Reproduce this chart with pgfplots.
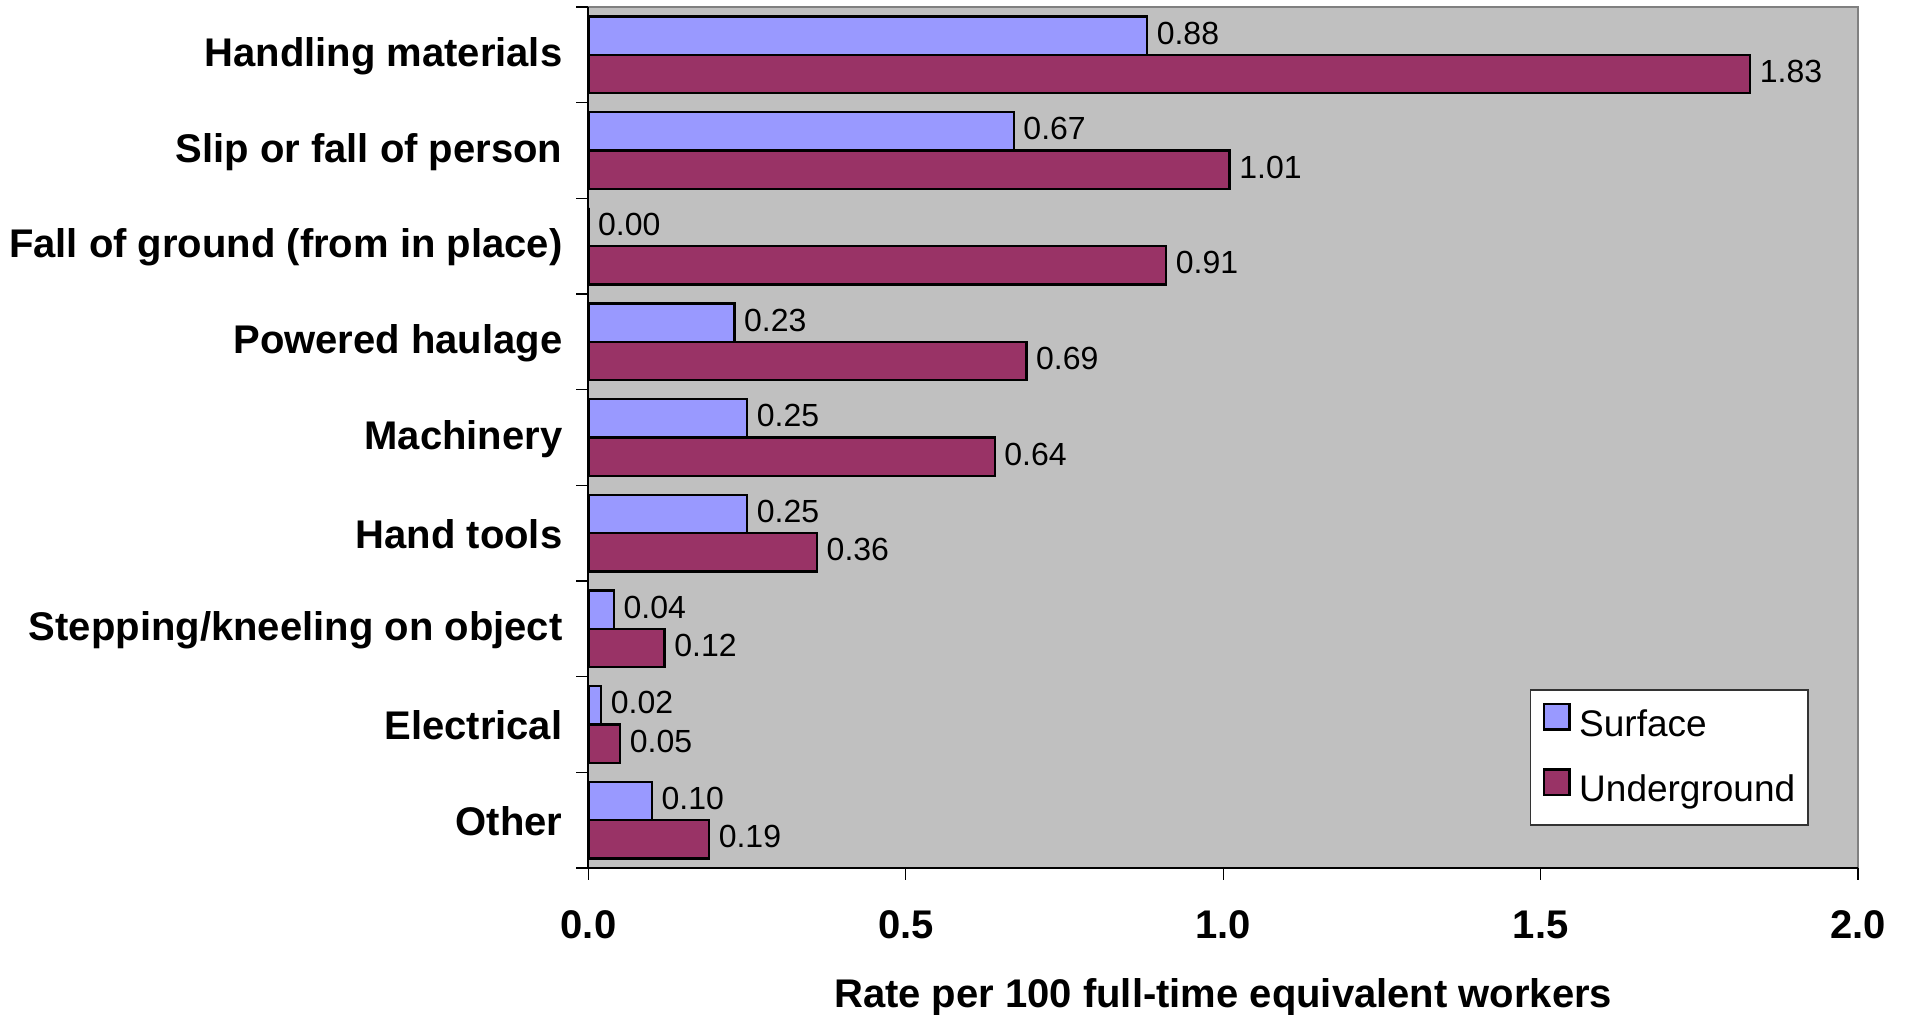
\documentclass[border=0pt]{standalone}
\usepackage{pgfplots}
\pgfplotsset{compat=1.18}
\usepackage{fontspec}
\setmainfont{Liberation Sans}

\definecolor{surf}{HTML}{9999FF}
\definecolor{under}{HTML}{993366}
\definecolor{plotbg}{HTML}{C0C0C0}
\definecolor{framegray}{HTML}{808080}

\begin{document}
\begin{tikzpicture}
\begin{axis}[
  name=ax,
  scale only axis,
  width=317.4pt, height=215.25pt,
  xbar,
  clip=false,
  xmin=0, xmax=2,
  ymin=-0.5, ymax=8.5,
  bar width=0.4,
  axis background/.style={fill=plotbg, draw=framegray, line width=0.5pt},
  axis x line*=bottom, axis y line*=left,
  axis line style={black, line width=0.5pt},
  xtick={0,0.5,1,1.5,2},
  ytick={0,...,8},
  yticklabels={Other, Electrical, Stepping/kneeling on object, Hand tools, Machinery,
    Powered haulage, Fall of ground (from in place), Slip or fall of person, Handling materials},
  minor ytick={-0.5,0.5,...,8.5},
  tick align=outside,
  major tick length=3pt, minor tick length=3pt,
  every major y tick/.append style={draw=none},
  tick style={black, line width=0.3pt},
  ticklabel style={font=\fontsize{10}{12}\selectfont\bfseries},
  yticklabel style={yshift=-0.3pt},
  xticklabel style={yshift=-4.2pt,
    /pgf/number format/.cd, fixed, fixed zerofill, precision=1, assume math mode=true},
  xlabel={Rate per 100 full-time equivalent workers},
  xlabel style={at={(axis description cs:0.5,0)}, anchor=base, yshift=-34.8pt,
    font=\fontsize{10}{12}\selectfont\bfseries},
  point meta=x,
  nodes near coords={\pgfmathprintnumber[fixed, fixed zerofill, precision=2, assume math mode=true]{\pgfplotspointmeta}},
  every node near coord/.append style={font=\fontsize{8}{9.6}\selectfont, anchor=west,
    xshift=-1.2pt, yshift=0.6pt, black},
  legend cell align=left,
  legend image code/.code={
    \path[draw=none, fill=none] (0pt,0pt) -- (9.05pt,0pt);
    \draw[#1, line width=0.6pt] (0.3pt,-1pt) rectangle (6.65pt,5.35pt);},
  legend style={at={(1,0)}, anchor=south east, xshift=-12.35pt, yshift=10.6pt,
    fill=white, draw=black!80, line width=0.4pt,
    inner xsep=3.15pt, inner ysep=3.3pt, row sep=5.45pt,
    font=\fontsize{9.25}{11}\selectfont,
    nodes={inner sep=0pt, text height=8pt, text depth=2.4pt}},
]
\addplot[fill=surf, draw=black, line width=0.6pt, bar shift=0.2]
  coordinates {(0.88,8) (0.67,7) (0.00,6) (0.23,5) (0.25,4) (0.25,3) (0.04,2) (0.02,1) (0.10,0)};
\addlegendentry{Surface}
\addplot[fill=under, draw=black, line width=0.6pt, bar shift=-0.2]
  coordinates {(1.83,8) (1.01,7) (0.91,6) (0.69,5) (0.64,4) (0.36,3) (0.12,2) (0.05,1) (0.19,0)};
\addlegendentry{Underground}
\end{axis}
\pgfresetboundingbox
\path ([xshift=-147.125pt,yshift=-36.75pt]ax.south west) rectangle ([xshift=12pt,yshift=1.75pt]ax.north east);
\end{tikzpicture}
\end{document}
